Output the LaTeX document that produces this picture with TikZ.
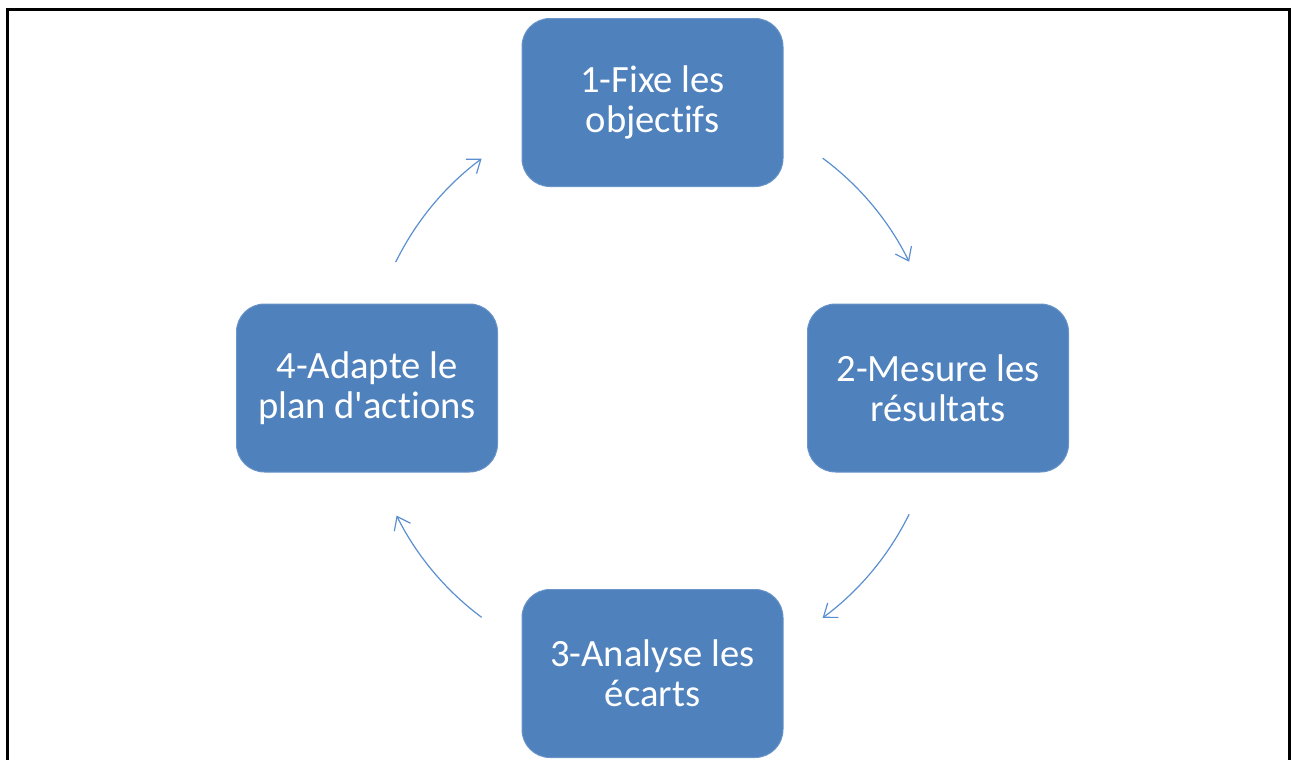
\documentclass[tikz,border=0pt]{standalone}
\usepackage{fontspec}
\setmainfont{Carlito}
\newfontfamily\boxfont{Carlito}[Ligatures=NoCommon]
\usetikzlibrary{arrows.meta,calc}
\definecolor{boxblue}{HTML}{4F81BD}
\definecolor{arrowblue}{HTML}{5B8FD0}
\tikzset{
  stagebox/.style={fill=boxblue, draw=boxblue!85!white, line width=0.5pt, rounded corners=14pt,
    minimum width=130.5pt, minimum height=84pt, inner sep=0pt,
    text=white, align=center, font=\boxfont\fontsize{19.3pt}{20pt}\selectfont},
  cyclearrow/.style={draw=arrowblue, line width=0.6pt, -{Straight Barb[length=6pt,width=9pt]}},
  frame/.style={draw=black, line width=1.5pt}
}
\begin{document}
\begin{tikzpicture}[x=0.5pt,y=-0.5pt]
\useasboundingbox (0,0) rectangle (1291,760);
\draw[frame] (7.5,762) -- (7.5,9.5) -- (1289.5,9.5) -- (1289.5,762);
\node[stagebox] (b1) at (652.5,102.5) {1-Fixe les\\objectifs};
\node[stagebox] (b2) at (938,388) {2-Mesure les\\résultats};
\node[stagebox] (b3) at (652.5,673.5) {3-Analyse les\\écarts};
\node[stagebox] (b4) at (367,388) {4-Adapte le\\plan d'actions};
\coordinate (c) at (652.5,388);
\coordinate (s1) at ($(c)+(53.5:143pt)$);
\coordinate (s2) at ($(c)+(-26.2:143pt)$);
\coordinate (s3) at ($(c)+(-126.7:143pt)$);
\coordinate (s4) at ($(c)+(153.9:143pt)$);
\draw[cyclearrow] (s1) arc[start angle=53.5, end angle=26.2, radius=143pt];
\draw[cyclearrow] (s2) arc[start angle=-26.2, end angle=-53.5, radius=143pt];
\draw[cyclearrow] (s3) arc[start angle=-126.7, end angle=-153.5, radius=143pt];
\draw[cyclearrow] (s4) arc[start angle=153.9, end angle=126.7, radius=143pt];
\end{tikzpicture}
\end{document}
